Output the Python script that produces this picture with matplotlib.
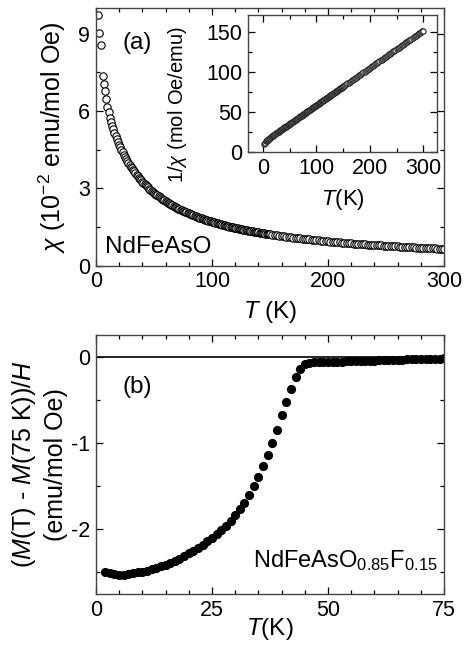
import numpy as np
import matplotlib
matplotlib.use("Agg")
import matplotlib.pyplot as plt
from matplotlib.ticker import MultipleLocator

plt.rcParams['font.family'] = ['Liberation Sans', 'DejaVu Sans']
plt.rcParams['mathtext.fontset'] = 'custom'
plt.rcParams['mathtext.rm'] = 'Liberation Sans'
plt.rcParams['mathtext.it'] = 'Liberation Sans:italic'
plt.rcParams['axes.unicode_minus'] = False

# NdFeAsO: temperature (K) and inverse susceptibility 1/chi (mol Oe/emu)
temp_a = [2, 3, 4,
          6, 7, 8, 9, 10, 11, 12, 13, 14, 15, 16, 17, 18, 19, 20,
          21, 22, 23, 24, 25, 26, 27, 28, 29, 30, 31, 32, 33, 34, 35,
          36, 37, 38, 39, 40, 41, 42, 43, 44, 45, 46, 47, 48, 49, 50,
          51, 52, 53, 54, 55, 56, 57, 58, 59, 60, 61, 62, 63, 64, 65,
          66, 67, 68, 69, 70, 71, 72, 73, 74, 75, 76, 77, 78, 79, 80,
          81, 82, 83, 84, 85, 86, 87, 88, 89, 90, 91, 92, 93, 94, 95,
          96, 97, 98, 99, 100, 101, 102, 103, 104, 105, 106, 107, 108, 109, 110,
          111, 112, 113, 114, 115, 116, 117, 118, 119, 120, 121, 122, 123, 124, 125,
          126, 127, 128, 129, 130, 131, 132, 133, 134, 135, 136, 137, 138, 139, 140,
          141, 142, 143, 144, 145, 146, 147, 148, 149, 150,
          152, 154, 156, 158, 160, 162, 164, 166, 168, 170, 172, 174, 176, 178, 180,
          182, 184, 186, 188, 190, 192, 194, 196, 198, 200, 202, 204, 206, 208, 210,
          212, 214, 216, 218, 220, 222, 224, 226, 228, 230, 232, 234, 236, 238, 240,
          242, 244, 246, 248, 250, 252, 254, 256, 258, 260, 262, 264, 266, 268, 270,
          272, 274, 276, 278, 280, 282, 284, 286, 288, 290, 292, 294, 296, 298, 300]
inv_chi = [10.3, 11.1, 11.7,
           13.6, 14.2, 14.8, 15.5, 16.2, 16.8, 17.4, 17.9, 18.4, 18.9, 19.4, 19.9, 20.4, 20.9, 21.3,
           21.8, 22.2, 22.7, 23.2, 23.6, 24.1, 24.6, 25.0, 25.5, 26.0, 26.4, 26.9, 27.3, 27.8, 28.3,
           28.7, 29.2, 29.7, 30.1, 30.6, 31.1, 31.5, 32.0, 32.5, 32.9, 33.4, 33.9, 34.3, 34.8, 35.3,
           35.7, 36.2, 36.6, 37.1, 37.6, 38.0, 38.5, 39.0, 39.4, 39.9, 40.4, 40.8, 41.3, 41.8, 42.2,
           42.7, 43.2, 43.6, 44.1, 44.6, 45.0, 45.5, 45.9, 46.4, 46.9, 47.3, 47.8, 48.3, 48.7, 49.2,
           49.7, 50.1, 50.6, 51.1, 51.5, 52.0, 52.5, 52.9, 53.4, 53.9, 54.3, 54.8, 55.2, 55.7, 56.2,
           56.6, 57.1, 57.6, 58.0, 58.5, 59.0, 59.4, 59.9, 60.4, 60.8, 61.3, 61.8, 62.2, 62.7, 63.2,
           63.6, 64.1, 64.5, 65.0, 65.5, 65.9, 66.4, 66.9, 67.3, 67.8, 68.3, 68.7, 69.2, 69.7, 70.1,
           70.6, 71.1, 71.5, 72.0, 72.5, 72.9, 73.4, 73.8, 74.3, 74.8, 75.2, 75.7, 76.2, 76.6, 77.1,
           77.6, 78.0, 78.5, 79.0, 79.4, 79.9, 80.4, 80.8, 81.3, 81.8,
           82.7, 83.6, 84.5, 85.5, 86.4, 87.3, 88.3, 89.2, 90.1, 91.0, 92.0, 92.9, 93.8, 94.8, 95.7,
           96.6, 97.6, 98.5, 99.4, 100.3, 101.3, 102.2, 103.1, 104.1, 105.0, 105.9, 106.9, 107.8, 108.7, 109.6,
           110.6, 111.5, 112.4, 113.4, 114.3, 115.2, 116.2, 117.1, 118.0, 118.9, 119.9, 120.8, 121.7, 122.7, 123.6,
           124.5, 125.5, 126.4, 127.3, 128.2, 129.2, 130.1, 131.0, 132.0, 132.9, 133.8, 134.8, 135.7, 136.6, 137.5,
           138.5, 139.4, 140.3, 141.3, 142.2, 143.1, 144.1, 145.0, 145.9, 146.8, 147.8, 148.7, 149.6, 150.6, 151.5]

# NdFeAsO0.85F0.15: (M(T) - M(75 K))/H in emu/mol Oe
temp_b = [2, 3, 4, 5, 6, 7, 8, 9, 10, 11, 12, 13, 14, 15, 16, 17, 18, 19, 20,
          21, 22, 23, 24, 25, 26, 27, 28, 29, 30, 31, 32, 33, 34, 35, 36, 37, 38,
          39, 40, 41, 42, 43, 44, 45, 46, 47, 48, 49, 50, 51, 52, 53, 54, 55, 56,
          57, 58, 59, 60, 61, 62, 63, 64, 65, 66, 67, 68, 69, 70, 71, 72, 73, 74, 75]
dm_h = [-2.50, -2.51, -2.52, -2.53, -2.53, -2.52, -2.51, -2.50, -2.49, -2.48,
        -2.46, -2.45, -2.43, -2.41, -2.39, -2.37, -2.34, -2.31, -2.28, -2.25,
        -2.22, -2.18, -2.14, -2.10, -2.06, -2.01, -1.96, -1.90, -1.83, -1.76,
        -1.69, -1.60, -1.50, -1.39, -1.27, -1.14, -1.00, -0.85, -0.68, -0.52,
        -0.37, -0.24, -0.14, -0.09, -0.075, -0.065, -0.061, -0.060, -0.059, -0.058,
        -0.057, -0.056, -0.055, -0.054, -0.053, -0.051, -0.049, -0.047, -0.045, -0.043,
        -0.041, -0.039, -0.037, -0.035, -0.033, -0.031, -0.029, -0.027, -0.025, -0.024,
        -0.023, -0.022, -0.021, -0.020]

chi = 100.0 / np.array(inv_chi)  # in 10^-2 emu/mol Oe

tick_fs = 15.5
label_fs = 17.5


def style_axes(ax):
    ax.tick_params(which='both', direction='in', top=True, right=True,
                   labelsize=tick_fs, width=0.9, colors='black', pad=4)
    ax.tick_params(which='major', length=5)
    ax.tick_params(which='minor', length=3)
    for s in ax.spines.values():
        s.set_linewidth(1.0)
        s.set_color('#444444')


fig = plt.figure(figsize=(4.70, 6.47), dpi=100)

# panel (a)
ax1 = fig.add_axes([0.204, 0.589, 0.741, 0.399])
ax1.plot(temp_a, chi, 'o', ms=5.3, mfc='white', mec='black', mew=0.8)
ax1.set_xlim(0, 300)
ax1.set_ylim(0, 10)
ax1.xaxis.set_major_locator(MultipleLocator(100))
ax1.xaxis.set_minor_locator(MultipleLocator(20))
ax1.yaxis.set_major_locator(MultipleLocator(3))
ax1.yaxis.set_minor_locator(MultipleLocator(1.5))
style_axes(ax1)
ax1.set_xlabel(r'$T$ (K)', fontsize=label_fs, labelpad=5)
ax1.set_ylabel(r'$\chi$ (10$^{-2}$ emu/mol Oe)', fontsize=18, labelpad=7)
ax1.text(0.075, 0.865, '(a)', transform=ax1.transAxes, fontsize=label_fs,
         va='center')
ax1.text(0.026, 0.074, 'NdFeAsO', transform=ax1.transAxes, fontsize=label_fs,
         va='center')

# inset
ax_in = fig.add_axes([0.528, 0.765, 0.402, 0.212])
ax_in.plot(temp_a, inv_chi, 'o', ms=3.8, mfc='white', mec='#222222', mew=0.8)
ax_in.set_xlim(-28, 326)
ax_in.set_ylim(0, 171)
ax_in.xaxis.set_major_locator(MultipleLocator(100))
ax_in.xaxis.set_minor_locator(MultipleLocator(50))
ax_in.yaxis.set_major_locator(MultipleLocator(50))
ax_in.yaxis.set_minor_locator(MultipleLocator(25))
style_axes(ax_in)
ax_in.set_xlabel(r'$T$(K)', fontsize=16, labelpad=6)
ax_in.set_ylabel(r'1/$\chi$ (mol Oe/emu)', fontsize=14.5)
ax_in.yaxis.set_label_coords(-0.315, 0.35)

# panel (b)
ax2 = fig.add_axes([0.204, 0.082, 0.741, 0.400])
ax2.axhline(0, color='black', lw=1.2)
ax2.plot(temp_b, dm_h, 'o', ms=5.6, color='black')
ax2.set_xlim(0, 75)
ax2.set_ylim(-2.75, 0.25)
ax2.xaxis.set_major_locator(MultipleLocator(25))
ax2.xaxis.set_minor_locator(MultipleLocator(5))
ax2.yaxis.set_major_locator(MultipleLocator(1))
ax2.yaxis.set_minor_locator(MultipleLocator(0.5))
style_axes(ax2)
ax2.set_xlabel(r'$T$(K)', fontsize=label_fs, labelpad=-3)
ax2.set_ylabel('($M$(T) - $M$(75 K))/$H$\n(emu/mol Oe)', fontsize=18,
               labelpad=2, linespacing=1.35)
ax2.text(0.075, 0.80, '(b)', transform=ax2.transAxes, fontsize=label_fs,
         va='center')
ax2.text(0.451, 0.104, r'NdFeAsO$_{0.85}$F$_{0.15}$', transform=ax2.transAxes,
         fontsize=17, va='baseline')

fig.savefig('out.png', dpi=100)
